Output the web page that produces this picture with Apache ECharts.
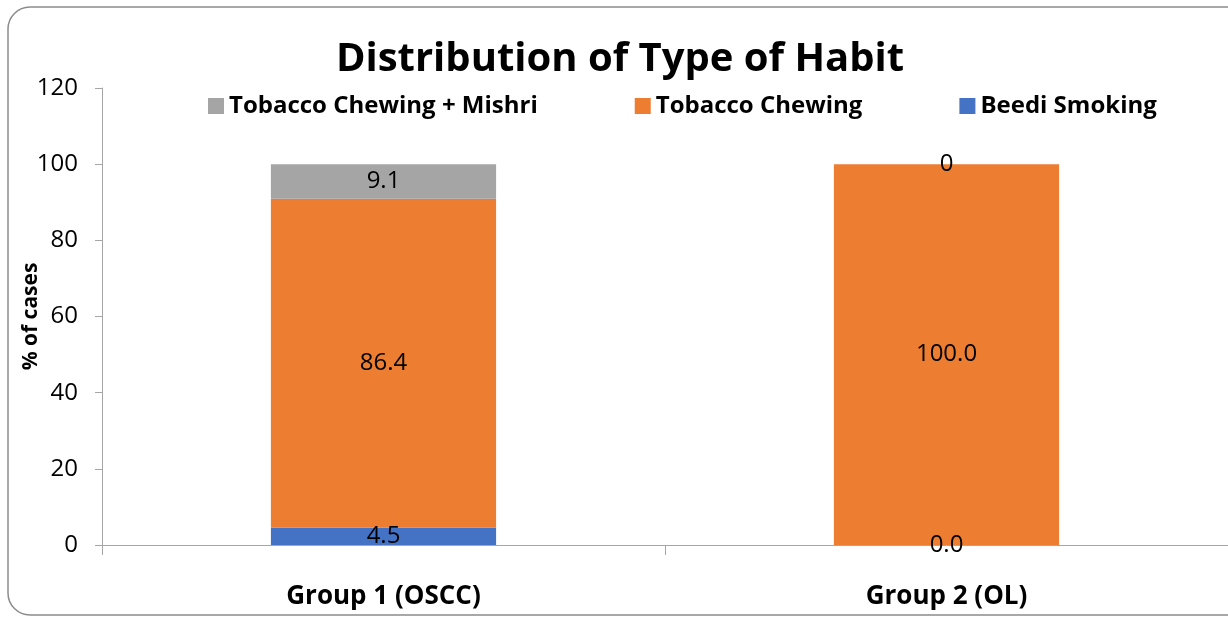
<!DOCTYPE html>
<html>
<head>
<meta charset="utf-8">
<script src="https://cdn.jsdelivr.net/npm/echarts@6/dist/echarts.min.js"></script>
<style>
html, body { margin: 0; padding: 0; background: #fff; }
#chart { width: 1228px; height: 619px; }
</style>
</head>
<body>
<div id="chart"></div>
<script>
var groups = ['Group 1 (OSCC)', 'Group 2 (OL)'];
var beedi = [4.5, 0.0];
var chewing = [86.4, 100.0];
var mishri = [9.1, 0];
var yTicks = [0, 20, 40, 60, 80, 100, 120];

var chart = echarts.init(document.getElementById('chart'));

var fontFam = '"Open Sans", sans-serif';

var option = {
	animation: false,
	textStyle: { fontFamily: fontFam },
	graphic: [{
		type: 'rect',
		shape: { x: 8, y: 7, width: 1240, height: 608, r: 22 },
		style: { fill: 'none', stroke: '#8c8c8c', lineWidth: 1.5 },
		silent: true
	}],
	title: {
		text: 'Distribution of Type of Habit',
		left: 615,
		textAlign: 'center',
		top: 35,
		textStyle: { fontSize: 40, fontWeight: 'bold', color: '#000', fontFamily: fontFam }
	},
	legend: {
		data: ['Tobacco Chewing + Mishri', 'Tobacco Chewing', 'Beedi Smoking'],
		left: 203,
		top: 89,
		itemWidth: 16,
		itemHeight: 16,
		itemGap: 97,
		icon: 'rect',
		textStyle: { fontSize: 24, fontWeight: 'bold', color: '#000', fontFamily: fontFam }
	},
	grid: { left: 102, right: 0, top: 88, bottom: 74, outerBoundsMode: 'none' },
	xAxis: {
		type: 'category',
		data: groups,
		axisLine: { lineStyle: { color: '#a6a6a6', width: 1 } },
		axisTick: { show: true, length: 10, lineStyle: { color: '#a6a6a6' } },
		axisLabel: { margin: 39, fontSize: 26, fontWeight: 'bold', color: '#000', fontFamily: fontFam }
	},
	yAxis: {
		type: 'value',
		min: yTicks[0],
		max: yTicks[yTicks.length - 1],
		interval: 20,
		name: '% of cases',
		nameLocation: 'middle',
		nameGap: 60,
		nameMoveOverlap: false,
		nameTextStyle: { fontSize: 21, fontWeight: 'bold', color: '#000', fontFamily: fontFam },
		axisLine: { show: true, lineStyle: { color: '#a6a6a6' } },
		axisTick: { show: true, length: 7, lineStyle: { color: '#a6a6a6' } },
		splitLine: { show: false },
		axisLabel: { margin: 24, fontSize: 24, color: '#000', fontFamily: fontFam }
	},
	series: [{
		name: 'Beedi Smoking',
		type: 'bar',
		stack: 'habit',
		barWidth: '40%',
		data: beedi,
		itemStyle: { color: '#4472c4' },
		label: {
			show: true, position: 'inside', fontSize: 24, color: '#000', fontFamily: fontFam,
			formatter: function (p) { return p.value.toFixed(1); }
		}
	}, {
		name: 'Tobacco Chewing',
		type: 'bar',
		stack: 'habit',
		data: chewing,
		itemStyle: { color: '#ed7d31' },
		label: {
			show: true, position: 'inside', fontSize: 24, color: '#000', fontFamily: fontFam,
			formatter: function (p) { return p.value.toFixed(1); }
		}
	}, {
		name: 'Tobacco Chewing + Mishri',
		type: 'bar',
		stack: 'habit',
		data: mishri,
		itemStyle: { color: '#a5a5a5' },
		label: {
			show: true, position: 'inside', fontSize: 24, color: '#000', fontFamily: fontFam,
			formatter: function (p) { return String(p.value); }
		}
	}]
};

chart.setOption(option);
</script>
</body>
</html>
